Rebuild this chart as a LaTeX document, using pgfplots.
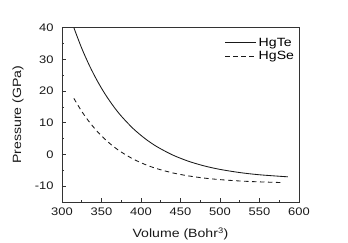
\documentclass[border=0pt]{standalone}
\usepackage{fontspec}
\setmainfont{Liberation Sans}[FakeStretch=1.18]
\usepackage{pgfplots}
\pgfplotsset{compat=1.18}
\begin{document}
\begin{tikzpicture}
\begin{axis}[
  scale only axis,
  width=237bp, height=174.3bp,
  xmin=300, xmax=600, ymin=-15, ymax=40,
  xtick={300,350,...,600},
  ytick={-10,0,10,20,30,40},
  minor x tick num=1, minor y tick num=1,
  tick align=inside,
  xtick pos=left, ytick pos=left,
  major tick length=4bp, minor tick length=2bp,
  axis line style={black!80, line width=0.9pt},
  every tick/.style={black!80, line width=0.6pt},
  /pgf/number format/assume math mode=true,
  ticklabel style={font=\fontsize{11}{13}\selectfont, black!90},
  yticklabel style={xshift=-5bp},
  xticklabel style={yshift=-2bp},
  xlabel={Volume (Bohr\textsuperscript{3})},
  ylabel={Pressure (GPa)},
  label style={font=\fontsize{12}{14}\selectfont, black!90},
  xlabel style={at={(axis description cs:0.5,-0.184)}, anchor=center},
  ylabel style={at={(axis description cs:-0.186,0.5)}, anchor=center},
  legend style={at={(axis description cs:1,0.965)}, anchor=north east, draw=none, fill=none,
    font=\fontsize{12}{14}\selectfont, nodes={inner sep=1.8bp}},
  legend cell align=left,
  legend image code/.code={\draw[#1] (0cm,0cm) -- (1.1cm,0cm);},
  clip=false,
]
\addplot[black!90, line width=0.85pt, smooth] coordinates {
(315,40) (325,33.5) (335,27.9) (345,23.07) (355,18.88) (365,15.26) (375,12.12)
(390,8.19) (405,5.03) (420,2.48) (440,-0.16) (460,-2.13) (480,-3.61) (500,-4.71)
(525,-5.71) (550,-6.41) (586,-7.06)};
\addlegendentry{HgTe}
\addplot[black!90, line width=0.85pt, smooth, dash pattern=on 4.5bp off 3.5bp] coordinates {
(315,17.7) (325,13.59) (335,10.12) (345,7.17) (355,4.67) (365,2.55) (375,0.76)
(390,-1.43) (405,-3.14) (420,-4.47) (440,-5.81) (460,-6.76) (480,-7.45) (500,-7.94)
(525,-8.37) (550,-8.65) (580,-8.87)};
\addlegendentry{HgSe}
\end{axis}
\pgfresetboundingbox
\path[use as bounding box] (-62bp,-41bp) rectangle (286bp,202bp);
\end{tikzpicture}
\end{document}
